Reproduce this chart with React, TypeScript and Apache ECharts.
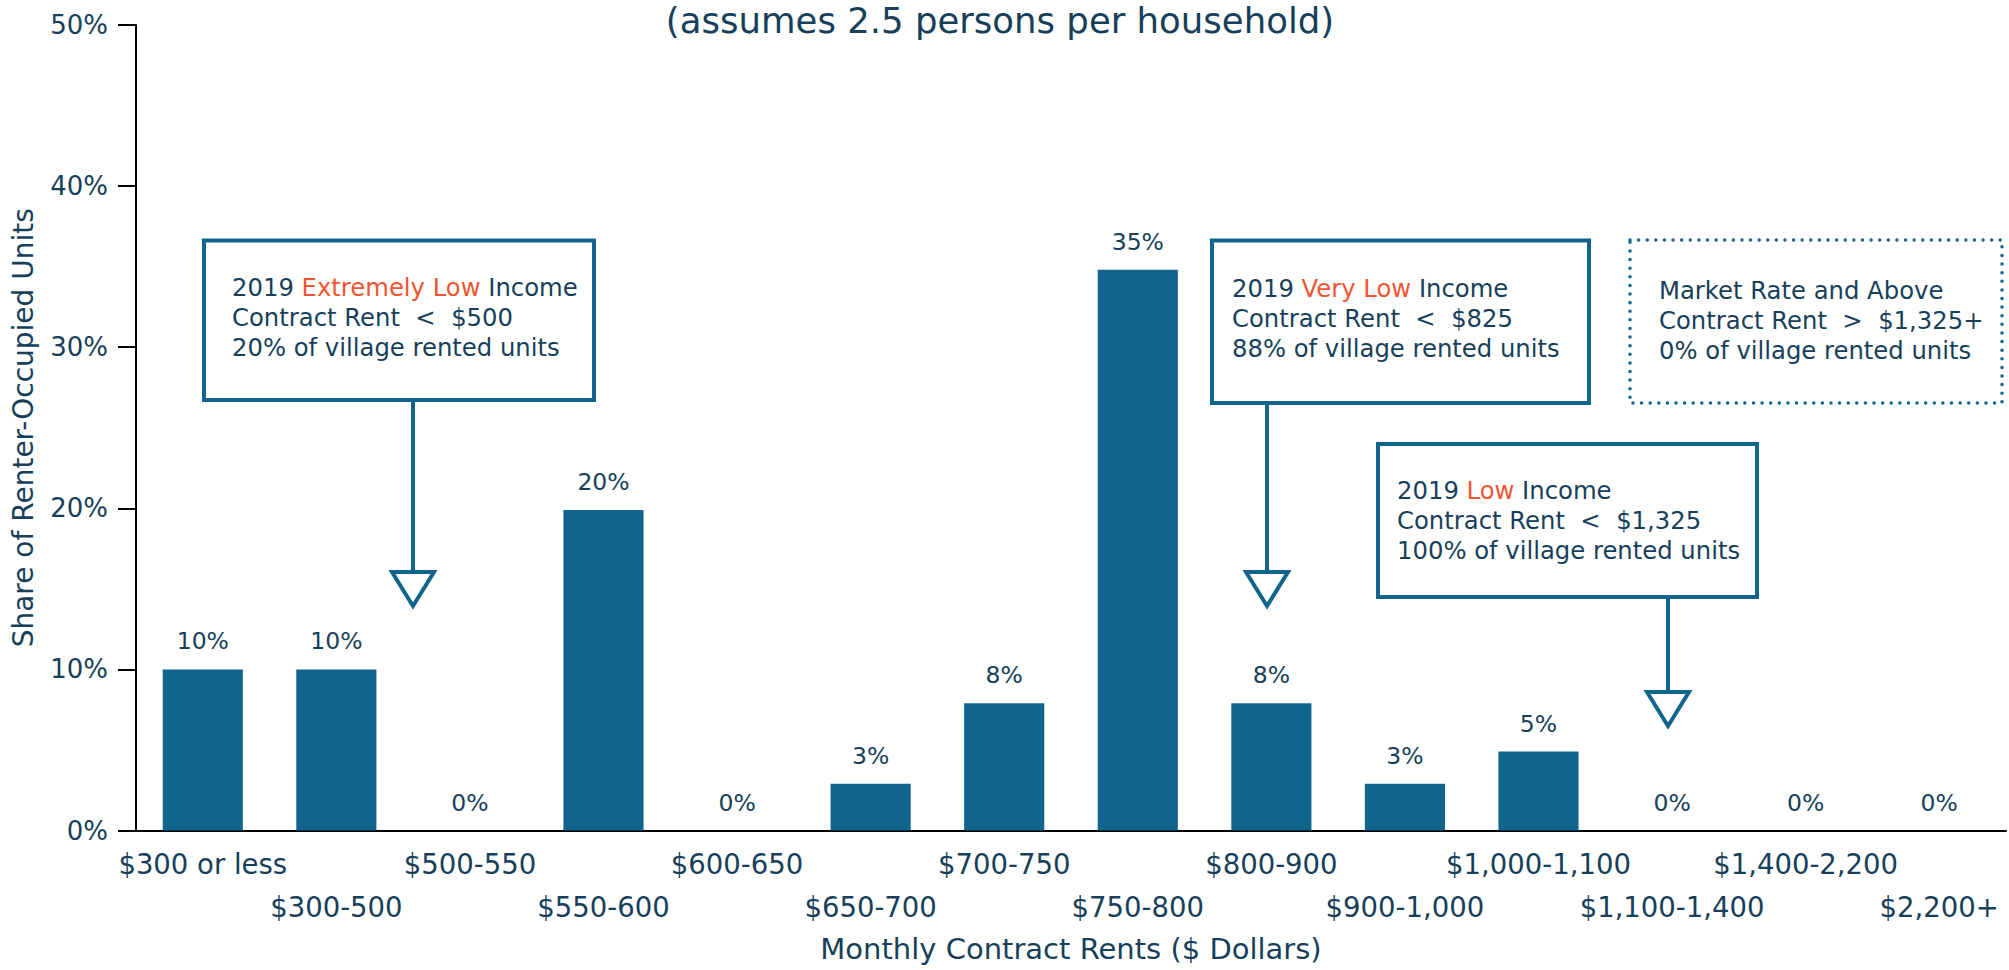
import React, { useEffect, useRef } from "react";
import * as echarts from "echarts";

const categories = [
  "$300 or less",
  "$300-500",
  "$500-550",
  "$550-600",
  "$600-650",
  "$650-700",
  "$700-750",
  "$750-800",
  "$800-900",
  "$900-1,000",
  "$1,000-1,100",
  "$1,100-1,400",
  "$1,400-2,200",
  "$2,200+",
];
const shares = [10, 10, 0, 19.9, 0, 2.9, 7.9, 34.8, 7.9, 2.9, 4.9, 0, 0, 0];
const yMin = 0;
const yMax = 50;
const yInterval = 10;

const subtitle = "(assumes 2.5 persons per household)";
const yTitle = "Share of Renter-Occupied Units";
const xTitle = "Monthly Contract Rents ($ Dollars)";

const noteExtremelyLow = ["2019 ", "Extremely Low", " Income", "Contract Rent  <  $500", "20% of village rented units"];
const noteVeryLow = ["2019 ", "Very Low", " Income", "Contract Rent  <  $825", "88% of village rented units"];
const noteLow = ["2019 ", "Low", " Income", "Contract Rent  <  $1,325", "100% of village rented units"];
const noteMarket = ["Market Rate and Above", "Contract Rent  >  $1,325+", "0% of village rented units"];

const FONT = "'DejaVu Sans', sans-serif";
const NAVY = "#173F5A";
const BAR = "#11648B";
const ORANGE = "#EF5533";

export default function App() {
  const ref = useRef<HTMLDivElement>(null);
  useEffect(() => {
    document.body.style.margin = "0";
    if (!ref.current) return;
    const chart = echarts.init(ref.current, undefined, { renderer: "svg" });

    const noteFont = 24.3;
    const noteLH = 30;
    const richNote = (n: string[]) =>
      `${n[0]}{o|${n[1]}}${n[2]}\n${n[3]}\n${n[4]}`;
    const noteText = (x: number, y: number, text: string) => ({
      type: "text",
      x,
      y,
      z: 10,
      style: {
        text,
        fill: NAVY,
        fontFamily: FONT,
        fontSize: noteFont,
        lineHeight: noteLH,
        verticalAlign: "top",
        align: "left",
        rich: {
          o: { fill: ORANGE, fontFamily: FONT, fontSize: noteFont, lineHeight: noteLH },
        },
      },
    });
    const box = (x: number, y: number, w: number, h: number, dotted = false) => ({
      type: "rect",
      z: 10,
      shape: { x, y, width: w, height: h },
      style: dotted
        ? { fill: "none", stroke: BAR, lineWidth: 3.5, lineDash: [0.01, 8.6], lineCap: "round" }
        : { fill: "none", stroke: BAR, lineWidth: 4 },
    });
    const arrow = (x: number, y1: number, y2: number) => [
      {
        type: "line",
        z: 10,
        shape: { x1: x, y1, x2: x, y2 },
        style: { stroke: BAR, lineWidth: 4 },
      },
      {
        type: "polygon",
        z: 11,
        shape: { points: [[x - 21, y2], [x + 21, y2], [x, y2 + 34]] },
        style: { fill: "#fff", stroke: BAR, lineWidth: 4, lineJoin: "miter" },
      },
    ];

    chart.setOption({
      animation: false,
      textStyle: { fontFamily: FONT },
      grid: { left: 136, right: 3, top: 25, bottom: 139.5, containLabel: false },
      xAxis: {
        type: "category",
        data: categories,
        name: xTitle,
        nameLocation: "middle",
        nameGap: 104,
        nameTextStyle: { color: NAVY, fontSize: 29, fontFamily: FONT },
        axisLine: { lineStyle: { color: "#000", width: 2 } },
        axisTick: { alignWithLabel: true, length: 17, lineStyle: { color: "#000", width: 2 } },
        axisLabel: {
          interval: 0,
          margin: 12,
          color: NAVY,
          fontSize: 27.5,
          fontFamily: FONT,
          lineHeight: 43,
          formatter: (v: string, i: number) => (i % 2 === 1 ? "\n" + v : v),
        },
      },
      yAxis: {
        type: "value",
        min: yMin,
        max: yMax,
        interval: yInterval,
        name: yTitle,
        nameLocation: "middle",
        nameGap: 99,
        nameTextStyle: { color: NAVY, fontSize: 28, fontFamily: FONT },
        splitLine: { show: false },
        axisLine: { show: true, lineStyle: { color: "#000", width: 2 } },
        axisTick: { show: true, length: 18, lineStyle: { color: "#000", width: 2 } },
        axisLabel: {
          margin: 28,
          color: NAVY,
          fontSize: 26,
          fontFamily: FONT,
          formatter: "{value}%",
        },
      },
      series: [
        {
          type: "bar",
          data: shares,
          barCategoryGap: "40%",
          itemStyle: { color: BAR },
          label: {
            show: true,
            position: "top",
            distance: 16,
            color: NAVY,
            fontSize: 23.5,
            fontFamily: FONT,
            formatter: (p: any) => Math.round(p.value) + "%",
          },
        },
      ],
      graphic: [
        {
          type: "text",
          x: 1000,
          y: 20,
          style: {
            text: subtitle,
            fill: NAVY,
            fontFamily: FONT,
            fontSize: 35.5,
            align: "center",
            verticalAlign: "middle",
          },
        },
        box(204, 240.5, 390, 159.5),
        noteText(232, 272, richNote(noteExtremelyLow)),
        ...arrow(413, 400, 572),
        box(1212, 240.5, 377, 162.5),
        noteText(1232, 273, richNote(noteVeryLow)),
        ...arrow(1267, 403, 572),
        box(1630, 240, 372, 163, true),
        noteText(1659, 275, noteMarket.join("\n")),
        box(1378, 444, 379, 153),
        noteText(1397, 475, richNote(noteLow)),
        ...arrow(1668, 595, 692),
      ],
    });
    return () => chart.dispose();
  }, []);
  return <div ref={ref} style={{ width: 2009, height: 970 }} />;
}
